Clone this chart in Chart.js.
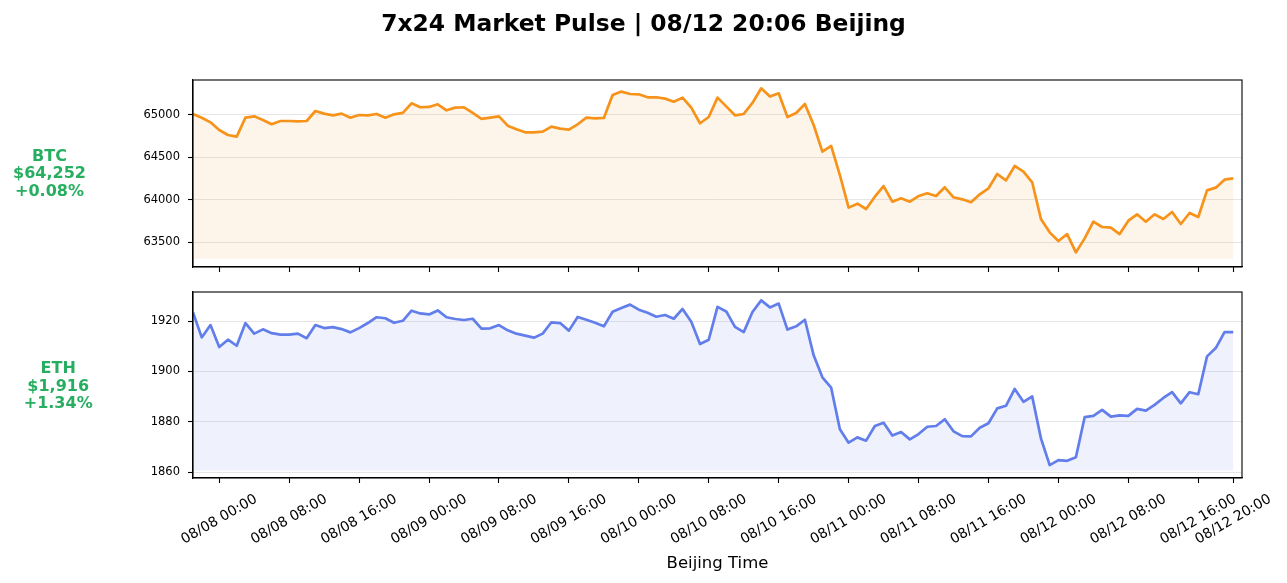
<!DOCTYPE html>
<html><head><meta charset="utf-8">
<script src="https://cdn.jsdelivr.net/npm/chart.js@4.4.1/dist/chart.umd.min.js"></script>
<style>
html,body{margin:0;padding:0;background:#fff;}
#wrap{position:relative;width:1287px;height:583px;overflow:hidden;background:#fff;}
canvas{position:absolute;left:0;}
</style></head><body>
<div id="wrap">
<canvas id="btc" width="1287" height="290" style="top:0px"></canvas>
<canvas id="eth" width="1287" height="303" style="top:280px"></canvas>
</div>
<script>
const chartTitle = '7x24 Market Pulse | 08/12 20:06 Beijing';
const xAxisTitle = 'Beijing Time';
// hourly samples; first sample 08/07 21:00 = -3 h relative to 08/08 00:00
const firstHour = -3;
const btcPrices = [
65012,64968,64913,64823,64764,64744,64968,64984,64941,64890,
64929,64929,64925,64929,65047,65016,64996,65016,64968,65000,
64996,65012,64968,65008,65024,65138,65091,65095,65126,65055,
65087,65091,65024,64953,64968,64984,64874,64831,64795,64795,
64803,64862,64839,64827,64890,64969,64961,64965,65236,65276,
65248,65244,65209,65209,65193,65157,65205,65087,64902,64976,
65205,65102,64996,65012,65142,65315,65217,65256,64976,65024,
65130,64882,64567,64634,64291,63906,63953,63890,64035,64161,
63976,64016,63976,64043,64075,64043,64146,64028,64004,63969,
64063,64134,64303,64228,64398,64331,64205,63772,63614,63512,
63594,63378,63543,63740,63677,63669,63594,63752,63827,63740,
63827,63772,63854,63713,63843,63795,64110,64142,64236,64252];
const ethPrices = [
1923.4,1913.5,1918.4,1909.7,1912.6,1910.2,1919.2,1915.0,1916.7,1915.2,
1914.6,1914.6,1915.0,1913.2,1918.4,1917.2,1917.6,1916.8,1915.5,1917.2,
1919.2,1921.5,1921.1,1919.3,1920.1,1924.1,1923.0,1922.6,1924.2,1921.5,
1920.8,1920.4,1920.9,1917.0,1917.1,1918.4,1916.3,1915.0,1914.2,1913.4,
1915.0,1919.5,1919.2,1916.2,1921.6,1920.5,1919.3,1917.9,1923.7,1925.2,
1926.5,1924.5,1923.3,1921.7,1922.4,1920.9,1924.8,1919.7,1910.9,1912.6,
1925.6,1923.8,1917.7,1915.6,1923.6,1928.2,1925.4,1926.9,1916.6,1917.9,
1920.5,1906.4,1897.7,1893.6,1877.1,1871.8,1873.9,1872.6,1878.4,1879.7,
1874.6,1876.0,1873.1,1875.2,1878.1,1878.4,1881.1,1876.3,1874.4,1874.3,
1877.7,1879.5,1885.4,1886.4,1893.1,1888.0,1890.1,1873.5,1862.9,1864.9,
1864.6,1866.0,1881.9,1882.4,1884.8,1882.1,1882.6,1882.4,1885.2,1884.5,
1886.8,1889.5,1891.8,1887.4,1891.8,1891.0,1906.0,1909.3,1915.6,1915.6];
const btcLabel = ['BTC', '$64,252', '+0.08%'];
const ethLabel = ['ETH', '$1,916', '+1.34%'];
const xTickHours = [0,8,16,24,32,40,48,56,64,72,80,88,96,104,112,116];
const xTickLabels = ['08/08 00:00','08/08 08:00','08/08 16:00','08/09 00:00','08/09 08:00','08/09 16:00',
  '08/10 00:00','08/10 08:00','08/10 16:00','08/11 00:00','08/11 08:00','08/11 16:00',
  '08/12 00:00','08/12 08:00','08/12 16:00','08/12 20:00'];
const btcTicks = [63500,64000,64500,65000];
const ethTicks = [1860,1880,1900,1920];

const FONT = '"DejaVu Sans", sans-serif';
const GREEN = '#27ae60';

function toPoints(arr){ return arr.map((v,i)=>({x:firstHour+i, y:v})); }

const framePlugin = {
  id:'frame',
  afterDraw(chart){
    const {ctx, chartArea:a} = chart;
    ctx.save();
    ctx.strokeStyle = '#000'; ctx.lineWidth = 1.1;
    ctx.strokeRect(a.left, a.top, a.right - a.left, a.bottom - a.top);
    ctx.restore();
  }
};

function sideLabelPlugin(lines, cx, baselines){
  return {
    id:'side',
    afterDraw(chart){
      const ctx = chart.ctx;
      ctx.save();
      ctx.fillStyle = GREEN;
      ctx.font = 'bold 16px ' + FONT;
      ctx.textAlign = 'center'; ctx.textBaseline = 'alphabetic';
      lines.forEach((t,i)=>ctx.fillText(t, cx, baselines[i]));
      ctx.restore();
    }
  };
}

const titlePlugin = {
  id:'mainTitle',
  afterDraw(chart){
    const ctx = chart.ctx;
    ctx.save();
    ctx.fillStyle = '#000';
    ctx.font = 'bold 23.4px ' + FONT;
    ctx.textAlign = 'center'; ctx.textBaseline = 'alphabetic';
    ctx.fillText(chartTitle, 643.5, 31);
    ctx.restore();
  }
};

const xLabelPlugin = {
  id:'xlabels',
  afterDraw(chart){
    const ctx = chart.ctx, xs = chart.scales.x;
    ctx.save();
    ctx.fillStyle = '#000';
    ctx.font = '14px ' + FONT;
    ctx.textAlign = 'center'; ctx.textBaseline = 'middle';
    xTickHours.forEach((h,i)=>{
      const px = xs.getPixelForValue(h);
      ctx.save();
      ctx.translate(px, xs.bottom - xs.height + 41.5);
      ctx.rotate(-Math.PI/6);
      ctx.fillText(xTickLabels[i], 0, 0);
      ctx.restore();
    });
    ctx.restore();
  }
};

function makeChart(id, prices, line, fillColor, fillBase, yMin, yMax, yTicks, padTop, xHeight, withXTitle, plugins){
  return new Chart(document.getElementById(id), {
    type:'line',
    data:{ datasets:[{
      data: toPoints(prices),
      borderColor: line, borderWidth: 2.7,
      backgroundColor: fillColor,
      fill: {value: fillBase},
      pointRadius: 0, tension: 0,
      borderJoinStyle: 'round'
    }]},
    options:{
      responsive:false, animation:false,
      layout:{ padding:{left:0, right:45, top:padTop, bottom:0} },
      plugins:{ legend:{display:false}, tooltip:{enabled:false}, title:{display:false} },
      scales:{
        x:{
          type:'linear', min:-3, max:117,
          afterBuildTicks: s => { s.ticks = xTickHours.map(v=>({value:v})); },
          afterFit: s => { s.height = xHeight; s.paddingLeft = 0; s.paddingRight = 0; },
          grid:{ drawOnChartArea:false, drawTicks:true, tickLength:5, tickColor:'#000', tickWidth:1.1 },
          border:{ display:true, color:'#000', width:1.1 },
          ticks:{ display:false, autoSkip:false },
          title:{ display:withXTitle, text:xAxisTitle, color:'#000',
                  font:{family:FONT, size:16.5}, padding:{top:0, bottom:9.5} }
        },
        y:{
          type:'linear', min:yMin, max:yMax,
          afterBuildTicks: s => { s.ticks = yTicks.map(v=>({value:v})); },
          afterFit: s => { s.width = 193; s.paddingTop = 0; s.paddingBottom = 0; },
          grid:{ color:'#e6e6e6', lineWidth:1, drawTicks:true, tickLength:5, tickColor:'#000', tickWidth:1.1 },
          border:{ display:true, color:'#000', width:1.1 },
          ticks:{ color:'#000', font:{family:FONT, size:11.5}, padding:8, autoSkip:false,
                  callback: v => String(v) }
        }
      }
    },
    plugins: plugins
  });
}

makeChart('btc', btcPrices, '#f7931a', 'rgba(247,147,26,0.09)', 63303, 63205, 65413, btcTicks,
  80, 23, false, [framePlugin, titlePlugin, sideLabelPlugin(btcLabel, 49.5, [160.7, 178.3, 195.7])]);
makeChart('eth', ethPrices, '#627eea', 'rgba(98,126,234,0.10)', 1860.8, 1857.8, 1931.5, ethTicks,
  12, 105, true, [framePlugin, xLabelPlugin, sideLabelPlugin(ethLabel, 58.2, [93.3, 111, 128.3])]);
</script>
</body></html>
